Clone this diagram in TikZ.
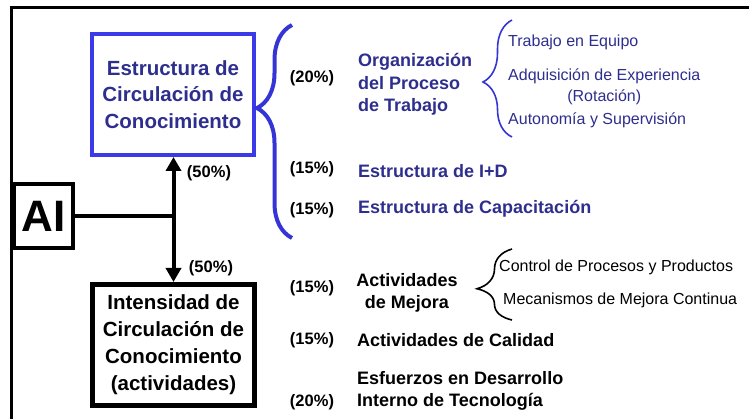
\documentclass[tikz,border=0pt]{standalone}
\usepackage{fontspec}
\setmainfont{Liberation Sans}
\usetikzlibrary{arrows.meta,decorations.pathreplacing}
\definecolor{boxblue}{HTML}{3A3AE8}
\definecolor{txtblue}{HTML}{2E2E8E}
\definecolor{braceblue}{HTML}{3535D6}
\tikzset{
  frameline/.style={draw=black, line width=3pt},
  bluebox/.style={draw=boxblue, line width=4pt, minimum width=162pt, minimum height=121pt, inner sep=0pt, text=txtblue, align=center, font=\bfseries\fontsize{20.5}{26.5}\selectfont},
  blackbox/.style={draw=black, line width=5pt, minimum width=162pt, minimum height=121pt, inner sep=0pt, align=center, font=\bfseries\fontsize{20.5}{27}\selectfont},
  aibox/.style={draw=black, line width=4pt, minimum width=59pt, minimum height=64pt, inner sep=0pt, font=\bfseries\fontsize{44}{44}\selectfont},
  link/.style={draw=black, line width=4pt},
  tip/.style={-{Triangle[width=15pt,length=14pt]}},
  pct/.style={inner sep=0pt, font=\bfseries\fontsize{16.5}{18}\selectfont},
  bitem/.style={inner sep=0pt, anchor=west, text=txtblue, align=left, font=\bfseries\fontsize{18}{22.5}\selectfont},
  kitem/.style={inner sep=0pt, anchor=west, align=left, font=\bfseries\fontsize{18}{22}\selectfont},
  subitem/.style={inner sep=0pt, anchor=west, font=\fontsize{16}{21}\selectfont},
  bigbrace/.style={draw=braceblue, line width=4pt, decorate, decoration={brace, amplitude=35pt, aspect=0.61}},
  thinbrace/.style={draw=braceblue, line width=1.6pt, decorate, decoration={brace, amplitude=29pt, aspect=0.47}},
  kbrace/.style={draw=black, line width=1.6pt, decorate, decoration={brace, amplitude=35pt, aspect=0.44}}
}
\begin{document}
\begin{tikzpicture}[x=1pt, y=-1pt]
  \useasboundingbox (0,0) rectangle (749,419);

  % frame of the slide
  \coordinate (fbl) at (11,419);
  \coordinate (ftl) at (11,8);
  \coordinate (ftr) at (749,8);
  \draw[frameline] (fbl) -- (ftl) -- (ftr);

  % main boxes
  \node[bluebox] (estr) at (173,94.5) {Estructura de\\Circulación de\\Conocimiento};
  \node[blackbox] (inten) at (173.5,345) {Intensidad de\\Circulación de\\Conocimiento\\(actividades)};
  \node[aibox] (ai) at (43.5,216) {AI};

  % connectors
  \coordinate (junc) at (173.5,216);
  \draw[link] (ai.east) -- (junc);
  \draw[link, tip] (junc) -- (estr.south -| junc);
  \draw[link, tip] (junc) -- (inten.north -| junc);
  \node[pct] (p50a) at (209,173) {(50\%)};
  \node[pct] (p50b) at (211,268) {(50\%)};

  % blue branch
  \coordinate (bb1) at (292,238);
  \coordinate (bb2) at (292,25);
  \draw[bigbrace] (bb1) -- (bb2);
  \node[pct] (p1) at (312,78) {(20\%)};
  \node[pct] (p2) at (312,169) {(15\%)};
  \node[pct] (p3) at (312,210) {(15\%)};
  \node[bitem] (org) at (358,84.5) {Organización\\del Proceso\\de Trabajo};
  \node[bitem] (imd) at (358,171) {Estructura de I+D};
  \node[bitem] (cap) at (358,209) {Estructura de Capacitación};

  \coordinate (sb1) at (512,137);
  \coordinate (sb2) at (512,20);
  \draw[thinbrace] (sb1) -- (sb2);
  \node[subitem, text=txtblue] (equ) at (508,42) {Trabajo en Equipo};
  \node[subitem, text=txtblue, align=center] (adq) at (508,86.5) {Adquisición de Experiencia\\(Rotación)};
  \node[subitem, text=txtblue] (aut) at (508,120) {Autonomía y Supervisión};

  % black branch
  \node[pct] (p4) at (312,288) {(15\%)};
  \node[pct] (p5) at (312,340) {(15\%)};
  \node[pct] (p6) at (312,402) {(20\%)};
  \node[kitem, anchor=center, align=center] (mej) at (407,293) {Actividades\\de Mejora};
  \node[kitem] (cal) at (357,340) {Actividades de Calidad};
  \node[kitem] (esf) at (357,391) {Esfuerzos en Desarrollo\\Interno de Tecnología};

  \coordinate (kb1) at (512,320);
  \coordinate (kb2) at (512,249);
  \draw[kbrace] (kb1) -- (kb2);
  \node[subitem] (ctl) at (499,267) {Control de Procesos y Productos};
  \node[subitem] (mec) at (503,300) {Mecanismos de Mejora Continua};
\end{tikzpicture}
\end{document}
